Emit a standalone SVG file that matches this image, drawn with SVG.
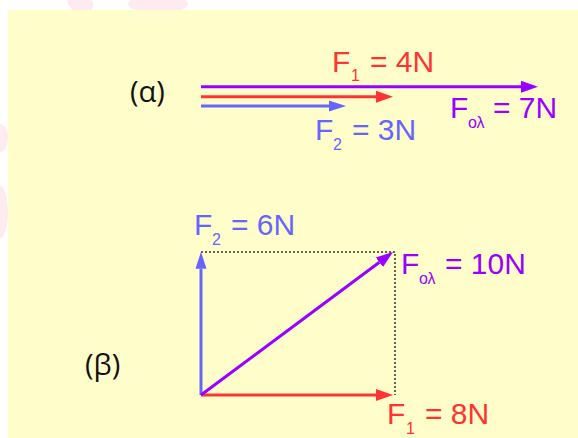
<svg xmlns="http://www.w3.org/2000/svg" width="578" height="438" viewBox="0 0 578 438">
  <style>
    .lbl { font-family: "Liberation Sans", Arial, sans-serif; font-size: 30px; }
    .sub { font-size: 16px; }
    .tag { font-family: "Open Sans", "Liberation Sans", sans-serif; font-size: 29px; fill: #111111; }
    .red { fill: #ff3333; }
    .blue { fill: #6666ff; }
    .purple { fill: #9900ff; }
    .vec { stroke-width: 3; fill: none; }
    .dot { stroke: #333333; stroke-width: 1.5; stroke-dasharray: 2 2; fill: none; }
  </style>
  <defs>
    <marker id="hRed" markerUnits="userSpaceOnUse" markerWidth="18" markerHeight="14" viewBox="0 -7 18 14" refX="0" refY="0" orient="auto">
      <path d="M0,-6 L17,0 L0,6 z" fill="#ff3333"/>
    </marker>
    <marker id="hBlue" markerUnits="userSpaceOnUse" markerWidth="18" markerHeight="14" viewBox="0 -7 18 14" refX="0" refY="0" orient="auto">
      <path d="M0,-5.5 L17,0 L0,5.5 z" fill="#6666ff"/>
    </marker>
    <marker id="hPurple" markerUnits="userSpaceOnUse" markerWidth="18" markerHeight="14" viewBox="0 -7 18 14" refX="0" refY="0" orient="auto">
      <path d="M0,-6 L17,0 L0,6 z" fill="#9900ff"/>
    </marker>
  </defs>

  <!-- background and faint watermark -->
  <rect width="578" height="438" fill="#ffffff"/>
  <g fill="#fbd3dc" opacity="0.45">
    <ellipse cx="80" cy="2" rx="14" ry="10" transform="rotate(30 80 2)"/>
    <ellipse cx="158" cy="4" rx="30" ry="9"/>
    <ellipse cx="0" cy="138" rx="8" ry="14"/>
    <ellipse cx="0" cy="212" rx="8" ry="26"/>
  </g>
  <rect x="8" y="10" width="570" height="428" fill="#fffdc9"/>

  <g id="connectors">
    <!-- (α) collinear forces -->
    <line class="vec" x1="201" y1="86.7" x2="521" y2="86.7" stroke="#9900ff" marker-end="url(#hPurple)"/>
    <line class="vec" x1="201" y1="96.7" x2="376" y2="96.7" stroke="#ff3333" marker-end="url(#hRed)"/>
    <line class="vec" x1="201" y1="106" x2="329" y2="106" stroke="#6666ff" marker-end="url(#hBlue)"/>
    <!-- (β) perpendicular forces -->
    <path class="dot" d="M201,252 H395 V395"/>
    <line class="vec" x1="201" y1="395" x2="201" y2="268.7" stroke="#6666ff" marker-end="url(#hBlue)"/>
    <line class="vec" x1="201" y1="395" x2="376" y2="395" stroke="#ff3333" marker-end="url(#hRed)"/>
    <line class="vec" x1="201" y1="395" x2="379.4" y2="262.2" stroke="#9900ff" marker-end="url(#hPurple)"/>
  </g>

  <g id="label-alpha">
    <text class="tag" x="130" y="102">(α)</text>
  </g>
  <g id="label-F1-4N">
    <text class="lbl red"><tspan x="332" y="71.5">F</tspan><tspan class="sub" x="351" y="81">1</tspan><tspan x="370" y="71.5">= 4N</tspan></text>
  </g>
  <g id="label-Fol-7N">
    <text class="lbl purple"><tspan x="450" y="118.3">F</tspan><tspan class="sub" x="468" y="127.8">ολ</tspan><tspan x="493" y="118.3">= 7N</tspan></text>
  </g>
  <g id="label-F2-3N">
    <text class="lbl blue"><tspan x="315" y="140">F</tspan><tspan class="sub" x="333" y="149.5">2</tspan><tspan x="352" y="140">= 3N</tspan></text>
  </g>

  <g id="label-beta">
    <text class="tag" x="85" y="375">(β)</text>
  </g>
  <g id="label-F2-6N">
    <text class="lbl blue"><tspan x="194" y="235">F</tspan><tspan class="sub" x="212" y="244.5">2</tspan><tspan x="231" y="235">= 6N</tspan></text>
  </g>
  <g id="label-Fol-10N">
    <text class="lbl purple"><tspan x="401" y="274">F</tspan><tspan class="sub" x="419" y="283.5">ολ</tspan><tspan x="445" y="274">= 10N</tspan></text>
  </g>
  <g id="label-F1-8N">
    <text class="lbl red"><tspan x="387" y="424">F</tspan><tspan class="sub" x="406" y="433.5">1</tspan><tspan x="425" y="424">= 8N</tspan></text>
  </g>
</svg>
